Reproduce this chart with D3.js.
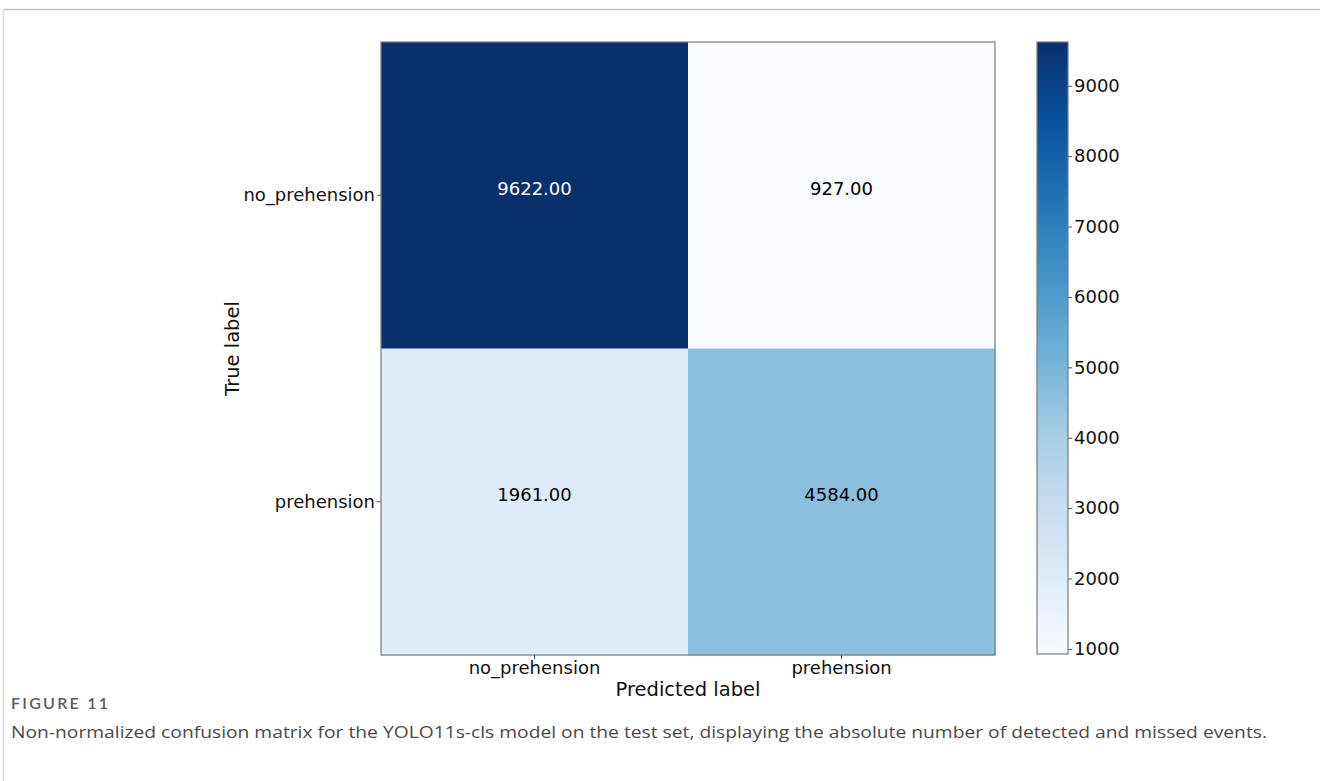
<!DOCTYPE html>
<html><head><meta charset="utf-8">
<script src="https://cdn.jsdelivr.net/npm/d3@7"></script>
<style>body{margin:0;background:#fff;} svg{display:block;}</style>
</head><body>
<svg id="c" width="1320" height="781"></svg>
<script>
const trueLabels = ["no_prehension", "prehension"];
const predLabels = ["no_prehension", "prehension"];
const counts = [[9622, 927], [1961, 4584]];
const colorbarTicks = [1000, 2000, 3000, 4000, 5000, 6000, 7000, 8000, 9000];
const bluesStops = ["#f7fbff","#deebf7","#c6dbef","#9ecae1","#6baed6","#4292c6","#2171b5","#08519c","#08306b"];
const figureLabel = "FIGURE 11";
const captionText = "Non-normalized confusion matrix for the YOLO11s-cls model on the test set, displaying the absolute number of detected and missed events.";

const svg = d3.select("#c");
const font = "DejaVu Sans, sans-serif";

// frame
svg.append("line").attr("x1",3.5).attr("x2",1320).attr("y1",9.5).attr("y2",9.5).attr("stroke","#c8c8c8").attr("stroke-width",1.5);
svg.append("line").attr("x1",3.5).attr("x2",3.5).attr("y1",9.5).attr("y2",781).attr("stroke","#dcdcdc").attr("stroke-width",1.5);

const allVals = counts.flat();
const vmin = d3.min(allVals), vmax = d3.max(allVals);
const color = d3.scaleLinear()
  .domain(bluesStops.map((_, i) => vmin + (vmax - vmin) * i / (bluesStops.length - 1)))
  .range(bluesStops).interpolate(d3.interpolateRgb);

const M = {x0: 381, x1: 995, y0: 42, y1: 655};
const x = d3.scaleBand().domain(predLabels).range([M.x0, M.x1]);
const y = d3.scaleBand().domain(trueLabels).range([M.y0, M.y1]);

const cells = [];
trueLabels.forEach((t, i) => predLabels.forEach((p, j) => cells.push({t, p, v: counts[i][j]})));

svg.append("g").selectAll("rect").data(cells).join("rect")
  .attr("x", d => x(d.p)).attr("y", d => y(d.t))
  .attr("width", x.bandwidth()+0.5).attr("height", y.bandwidth()+0.5)
  .attr("fill", d => color(d.v));

const thresh = vmax / 2;
svg.append("g").selectAll("text").data(cells).join("text")
  .attr("x", d => x(d.p) + x.bandwidth()/2)
  .attr("y", d => y(d.t) + y.bandwidth()/2 - 7)
  .attr("text-anchor","middle").attr("dy","0.35em")
  .attr("font-family", font).attr("font-size", 18)
  .attr("fill", d => d.v > thresh ? "#ffffff" : "#000000")
  .text(d => d.v.toFixed(2));

svg.append("rect").attr("x", M.x0).attr("y", M.y0).attr("width", M.x1-M.x0).attr("height", M.y1-M.y0)
  .attr("fill","none").attr("stroke","#7a7a7a").attr("stroke-width",1.2);

// axes
const xAxis = svg.append("g").attr("transform", `translate(0,${M.y1})`)
  .call(d3.axisBottom(x).tickSize(4).tickPadding(2));
const yAxis = svg.append("g").attr("transform", `translate(${M.x0},0)`)
  .call(d3.axisLeft(y).tickSize(4).tickPadding(2));
[xAxis, yAxis].forEach(g => {
  g.select(".domain").remove();
  g.selectAll(".tick line").attr("stroke","#555");
  g.selectAll(".tick text").attr("font-family", font).attr("font-size", 18).attr("fill","#111");
});

svg.append("text").attr("x", (M.x0+M.x1)/2).attr("y", 696)
  .attr("text-anchor","middle").attr("font-family", font).attr("font-size", 19.5).attr("fill","#111")
  .text("Predicted label");
svg.append("text").attr("transform", `translate(239,${(M.y0+M.y1)/2}) rotate(-90)`)
  .attr("text-anchor","middle").attr("font-family", font).attr("font-size", 19.5).attr("fill","#111")
  .text("True label");

// colorbar
const CB = {x0: 1037, x1: 1068, y0: 42, y1: 654};
const defs = svg.append("defs");
const grad = defs.append("linearGradient").attr("id","cbg").attr("x1",0).attr("x2",0).attr("y1",1).attr("y2",0);
bluesStops.forEach((c, i) => grad.append("stop").attr("offset", i/(bluesStops.length-1)).attr("stop-color", c));
svg.append("rect").attr("x", CB.x0).attr("y", CB.y0).attr("width", CB.x1-CB.x0).attr("height", CB.y1-CB.y0)
  .attr("fill","url(#cbg)").attr("stroke","#7a7a7a").attr("stroke-width",1.2);
const cy = d3.scaleLinear().domain([vmin, vmax]).range([CB.y1, CB.y0]);
const cAxis = svg.append("g").attr("transform", `translate(${CB.x1},0)`)
  .call(d3.axisRight(cy).tickValues(colorbarTicks).tickFormat(d3.format("d")).tickSize(4).tickPadding(2));
cAxis.select(".domain").remove();
cAxis.selectAll(".tick line").attr("stroke","#555");
cAxis.selectAll(".tick text").attr("font-family", font).attr("font-size", 18).attr("fill","#111");

// caption
svg.append("text").attr("x", 11).attr("y", 709).attr("font-family","Lato, sans-serif").attr("font-size", 16)
  .attr("font-weight", 600).attr("fill","#5a5a5a").attr("textLength", 97).attr("lengthAdjust","spacing").text(figureLabel);
svg.append("text").attr("x", 11).attr("y", 738).attr("font-family","Open Sans, sans-serif").attr("font-size", 17)
  .attr("fill","#4a4a4a").attr("textLength", 1256).attr("lengthAdjust","spacingAndGlyphs").text(captionText);
</script>
</body></html>
